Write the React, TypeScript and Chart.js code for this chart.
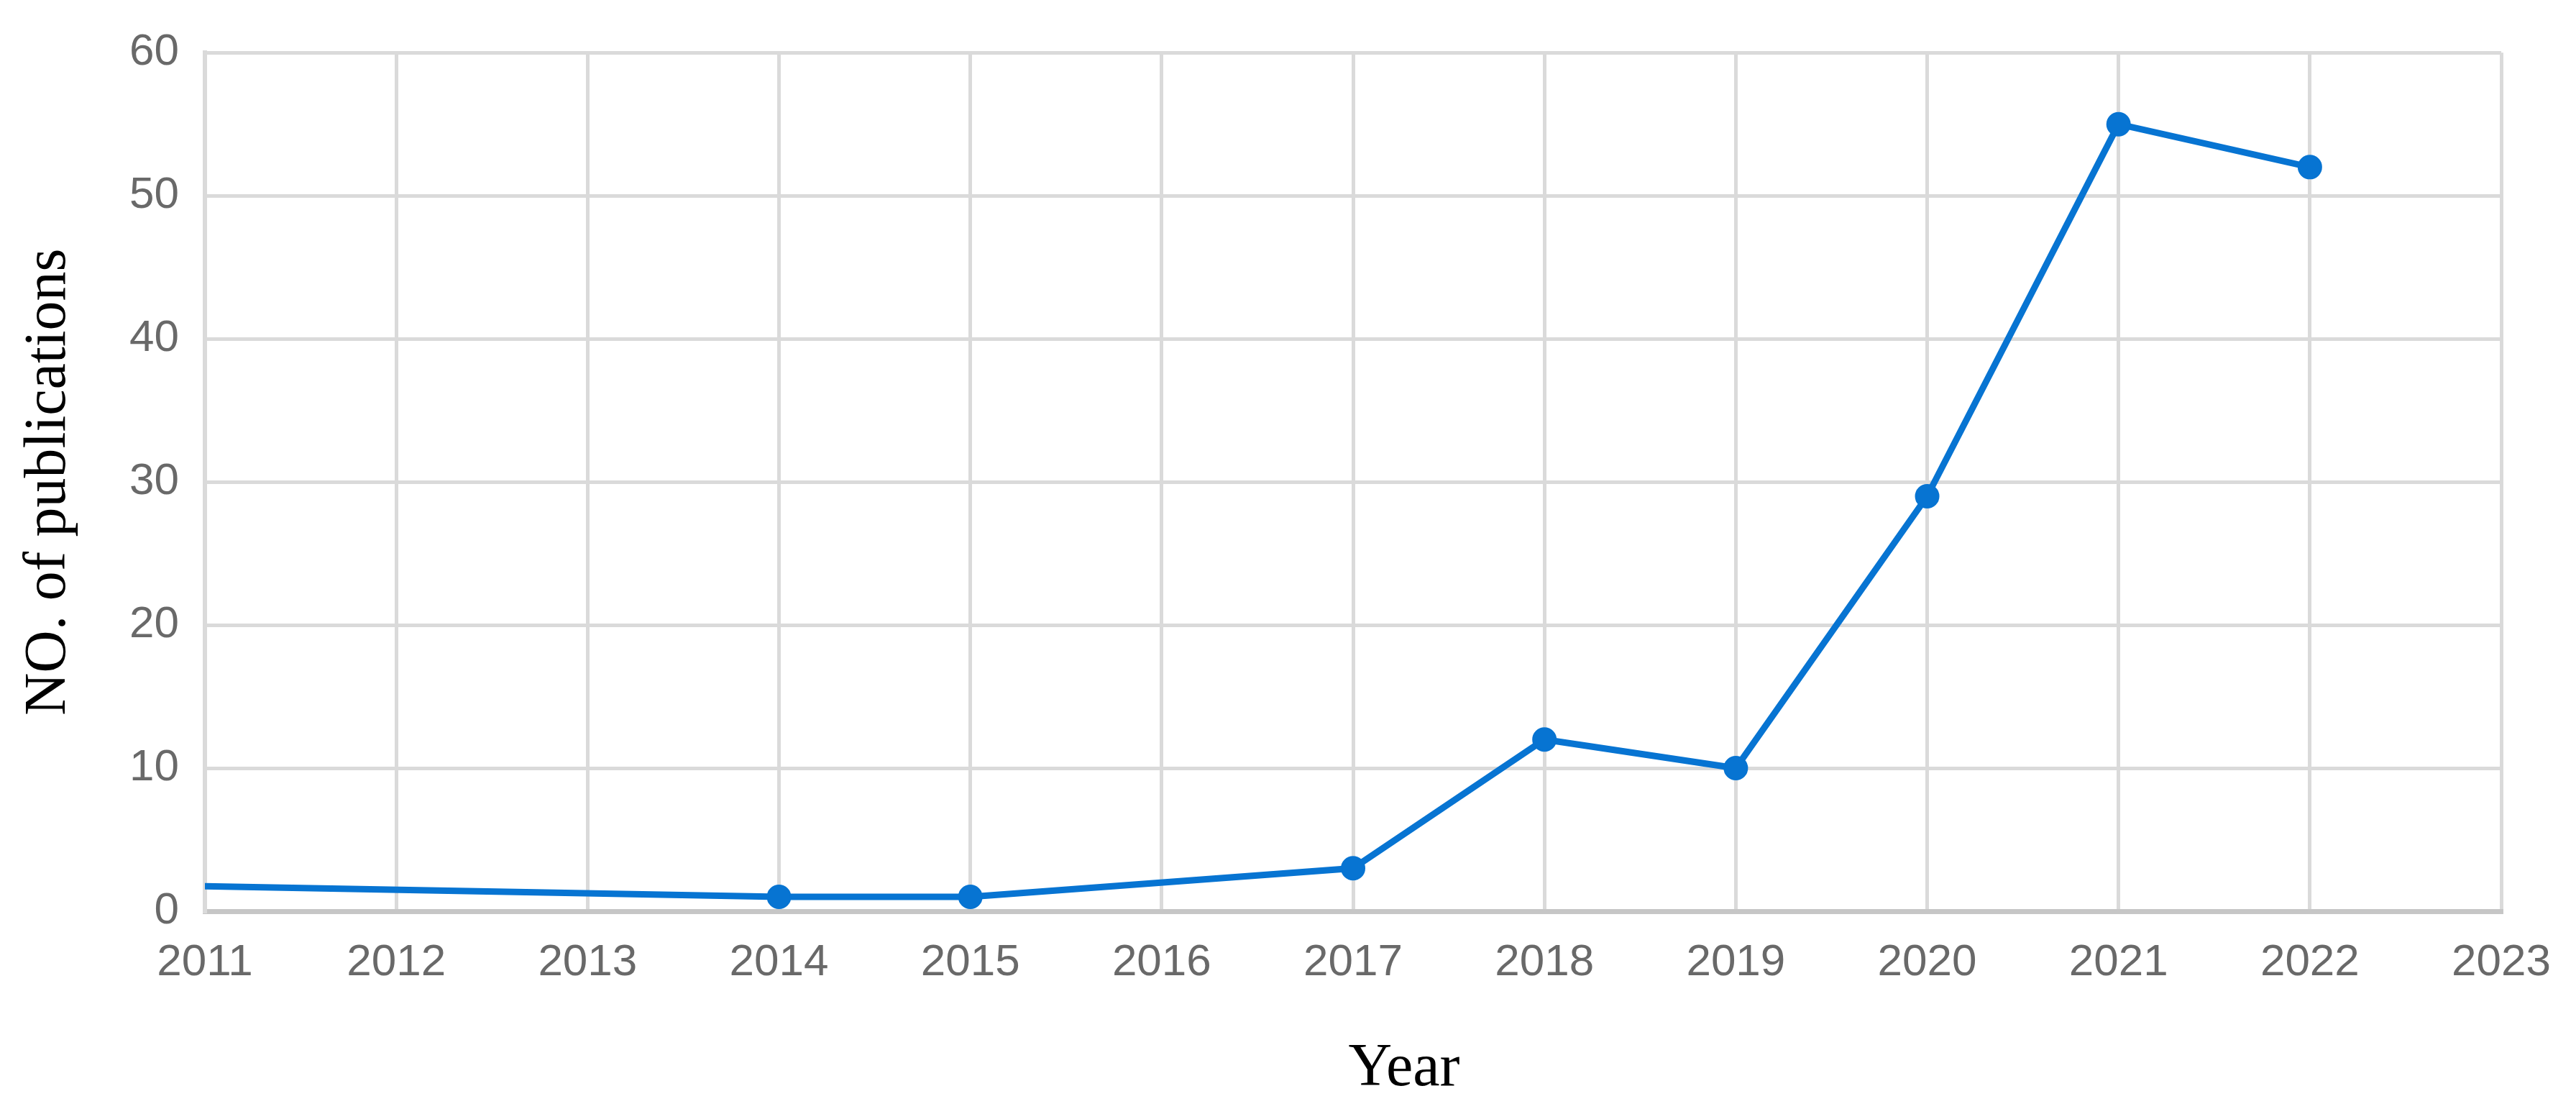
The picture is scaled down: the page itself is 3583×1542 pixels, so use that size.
import React, { useEffect, useRef } from "react";
import { Chart, registerables } from "chart.js";

Chart.register(...registerables);

// Data
const years = [2010, 2014, 2015, 2017, 2018, 2019, 2020, 2021, 2022];
const publications = [2, 1, 1, 3, 12, 10, 29, 55, 52];

const xMin = 2011;
const xMax = 2023;
const yMin = 0;
const yMax = 60;
const yStep = 10;

const xTitle = "Year";
const yTitle = "NO. of publications";

const WIDTH = 3583;
const HEIGHT = 1542;

const lineColor = "#0774d2";
const gridColor = "#dadada";
const axisColor = "#c6c6c6";
const tickColor = "#696969";

export default function App() {
  const canvasRef = useRef<HTMLCanvasElement | null>(null);

  useEffect(() => {
    document.body.style.margin = "0";
    const canvas = canvasRef.current;
    if (!canvas) return;

    const xTitlePlugin = {
      id: "xTitlePlugin",
      afterDraw(chart: any) {
        const { ctx, chartArea } = chart;
        ctx.save();
        ctx.font = "84px 'Liberation Serif', 'Times New Roman', serif";
        ctx.fillStyle = "#000000";
        ctx.textAlign = "center";
        ctx.textBaseline = "alphabetic";
        const cx = (chartArea.left + chartArea.right) / 2 + 71;
        ctx.fillText(xTitle, cx, chartArea.bottom + 242);
        ctx.restore();
      },
    };

    const chart = new Chart(canvas, {
      type: "line",
      data: {
        datasets: [
          {
            data: years.map((y, i) => ({ x: y, y: publications[i] })),
            borderColor: lineColor,
            backgroundColor: lineColor,
            borderWidth: 9,
            pointRadius: 16,
            pointBorderWidth: 2,
            pointBackgroundColor: lineColor,
            pointBorderColor: lineColor,
            tension: 0,
            fill: false,
          },
        ],
      },
      options: {
        responsive: false,
        animation: false,
        devicePixelRatio: 1,
        layout: { padding: { top: 60, right: 94, left: 0, bottom: 0 } },
        plugins: {
          legend: { display: false },
          tooltip: { enabled: false },
        },
        scales: {
          x: {
            type: "linear",
            min: xMin,
            max: xMax,
            afterFit(scale: any) {
              scale.height = 275;
            },
            ticks: {
              stepSize: 1,
              color: tickColor,
              padding: 35,
              maxRotation: 0,
              font: { family: "'Liberation Sans', Arial, sans-serif", size: 62 },
              callback: (v: any) => String(v),
            },
            grid: { color: gridColor, lineWidth: 5, drawTicks: false },
            border: { color: axisColor, width: 7 },
          },
          y: {
            min: yMin,
            max: yMax,
            afterFit(scale: any) {
              scale.width = 285;
            },
            ticks: {
              stepSize: yStep,
              color: tickColor,
              padding: 36,
              font: { family: "'Liberation Sans', Arial, sans-serif", size: 62 },
            },
            grid: { color: gridColor, lineWidth: 5, drawTicks: false },
            border: { color: gridColor, width: 6 },
            title: {
              display: true,
              text: yTitle,
              color: "#000000",
              padding: { top: 19, bottom: 0 },
              font: { family: "'Liberation Serif', 'Times New Roman', serif", size: 82 },
            },
          },
        },
      },
      plugins: [xTitlePlugin],
    });

    return () => {
      chart.destroy();
    };
  }, []);

  return (
    <div style={{ width: WIDTH, height: HEIGHT }}>
      <canvas ref={canvasRef} width={WIDTH} height={HEIGHT} style={{ display: "block" }} />
    </div>
  );
}
